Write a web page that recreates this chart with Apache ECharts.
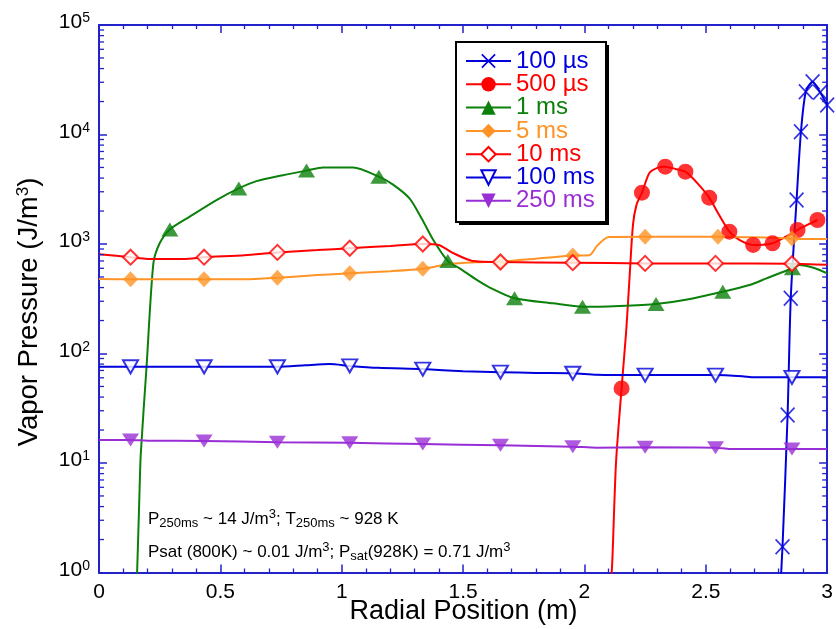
<!DOCTYPE html>
<html><head><meta charset="utf-8">
<script src="https://cdn.jsdelivr.net/npm/echarts@6/dist/echarts.min.js"></script>
<style>html,body{margin:0;padding:0;background:#fff}#c{width:836px;height:629px}</style>
</head><body><div id="c"></div>
<script>
const FONT = "'Liberation Sans', Arial, Helvetica, sans-serif";

// ---------- data ----------
const seriesNames = ['100 µs', '500 µs', '1 ms', '5 ms', '10 ms', '100 ms', '250 ms'];

// 100 µs
const us100Line = [[2.805,0.6],[2.816,1.72],[2.837,27.4],[2.85,319],[2.874,2520],[2.892,10600],[2.912,24600],[2.94,30300],[2.971,24300],[3.0,18600]];
const us100Marks = [[2.816,1.72],[2.837,27.4],[2.85,319],[2.874,2520],[2.892,10600],[2.912,24600],[2.94,30300],[2.971,24300],[3.0,18600]];

// 500 µs
const us500Line = [[2.108,0.7],[2.115,1.3],[2.13,10],[2.153,48],[2.172,160],[2.185,460],[2.2,1500],[2.215,2300],[2.237,2940],[2.267,4420],[2.3,4950],[2.333,5080],[2.375,4850],[2.416,4575],[2.466,3580],[2.514,2650],[2.555,1840],[2.597,1295],[2.638,1090],[2.695,980],[2.735,985],[2.775,1015],[2.83,1167],[2.878,1343],[2.92,1500],[2.96,1657]];
const us500Marks = [[2.153,48],[2.237,2940],[2.333,5080],[2.416,4575],[2.514,2650],[2.597,1295],[2.695,980],[2.775,1015],[2.878,1343],[2.96,1657]];

// 1 ms
const ms1Line = [[0.154,0.7],[0.157,1],[0.166,4.6],[0.172,12],[0.196,76],[0.224,665],[0.25,1015],[0.292,1360],[0.374,1780],[0.484,2520],[0.576,3220],[0.649,3750],[0.758,4250],[0.855,4680],[0.923,5000],[1.047,5000],[1.153,4120],[1.21,3500],[1.28,2600],[1.33,1700],[1.376,1100],[1.437,700],[1.486,600],[1.55,480],[1.61,400],[1.712,319],[1.87,287],[1.992,267],[2.144,272],[2.295,283],[2.418,309],[2.57,367],[2.68,422],[2.75,486],[2.857,600],[2.885,643],[2.95,600],[3.0,540]];
const ms1Marks = [[0.292,1360],[0.576,3220],[0.855,4680],[1.153,4120],[1.437,700],[1.712,319],[1.992,267],[2.295,283],[2.57,367],[2.857,600]];

// 5 ms
const ms5Line = [[0,480],[0.13,476],[0.433,476],[0.6,476],[0.735,492],[0.9,520],[1.033,540],[1.2,565],[1.334,595],[1.45,660],[1.55,680],[1.654,690],[1.8,735],[1.952,785],[2.02,790],[2.05,950],[2.08,1100],[2.1,1160],[2.25,1167],[2.55,1167],[2.7,1150],[2.855,1125],[2.9,1110],[3.0,1110]];
const ms5Marks = [[0.13,476],[0.433,476],[0.735,492],[1.033,540],[1.334,595],[1.654,690],[1.952,785],[2.25,1167],[2.55,1167],[2.855,1125]];

// 10 ms
const ms10Line = [[0,806],[0.13,758],[0.2,730],[0.35,730],[0.433,758],[0.6,790],[0.735,838],[0.9,880],[1.033,915],[1.2,960],[1.334,1000],[1.4,980],[1.457,830],[1.54,700],[1.654,685],[1.952,675],[2.25,665],[2.54,665],[2.855,660],[3.0,645]];
const ms10Marks = [[0.13,758],[0.433,758],[0.735,838],[1.033,915],[1.334,1000],[1.654,685],[1.952,675],[2.25,665],[2.54,665],[2.855,660]];

// 100 ms
const ms100Line = [[0,75.6],[0.13,75.6],[0.433,75.6],[0.735,75.6],[0.85,78],[0.95,80],[1.033,77],[1.15,74],[1.334,72],[1.5,69],[1.654,67.5],[1.8,66.5],[1.952,66],[2.05,64],[2.25,63.5],[2.54,63.5],[2.65,62],[2.7,60.6],[2.855,60.6],[3.0,60.6]];
const ms100Marks = [[0.13,75.6],[0.433,75.6],[0.735,75.6],[1.033,77],[1.334,72],[1.654,67.5],[1.952,66],[2.25,63.5],[2.54,63.5],[2.855,60.6]];

// 250 ms
const ms250Line = [[0,16.2],[0.13,16.2],[0.2,16.0],[0.433,15.9],[0.735,15.5],[1.033,15.3],[1.334,14.9],[1.654,14.5],[1.952,14.1],[2.05,13.8],[2.25,13.9],[2.54,13.8],[2.6,13.4],[2.855,13.4],[3.0,13.4]];
const ms250Marks = [[0.13,16.2],[0.433,15.9],[0.735,15.5],[1.033,15.3],[1.334,14.9],[1.654,14.5],[1.952,14.1],[2.25,13.9],[2.54,13.8],[2.855,13.4]];

// axis ticks
const xTickValues = [0, 0.5, 1, 1.5, 2, 2.5, 3];
const yDecades = [0, 1, 2, 3, 4, 5];
const yMinorMultipliers = [2, 3, 4, 5, 6, 7, 8, 9];

// ---------- styling ----------
const AXIS = '#2222cc';
const BLUE = '#0000dd', RED = '#ff0000', GREEN = '#0b800b', ORANGE = '#ff9326', PURPLE = '#9a2ed6';
const CROSS = 'path://M0,0.8L0.8,0L10,9.2L9.2,10Z M9.2,0L10,0.8L0.8,10L0,9.2Z';

const defs = [
  {name: seriesNames[0], line: us100Line, marks: us100Marks, color: BLUE, symbol: CROSS, rotate: 0, size: [15, 16]},
  {name: seriesNames[1], line: us500Line, marks: us500Marks, color: RED, symbol: 'circle', rotate: 0, size: 16},
  {name: seriesNames[2], line: ms1Line, marks: ms1Marks, color: GREEN, symbol: 'triangle', rotate: 0, size: [17, 14]},
  {name: seriesNames[3], line: ms5Line, marks: ms5Marks, color: ORANGE, symbol: 'diamond', rotate: 0, size: [15, 16]},
  {name: seriesNames[4], line: ms10Line, marks: ms10Marks, color: RED, symbol: 'emptyDiamond', rotate: 0, size: 15},
  {name: seriesNames[5], line: ms100Line, marks: ms100Marks, color: BLUE, symbol: 'emptyTriangle', rotate: 180, size: [15, 13]},
  {name: seriesNames[6], line: ms250Line, marks: ms250Marks, color: PURPLE, symbol: 'triangle', rotate: 180, size: [17, 13]}
];

const minorVals = [];
for (let k = 0; k < yDecades.length - 1; k++) {
  for (const m of yMinorMultipliers) minorVals.push([0, m * Math.pow(10, yDecades[k])]);
}

const series = [];
defs.forEach((d) => {
  series.push({
    name: d.name, type: 'line', data: d.line, smooth: 0.25,
    showSymbol: false, symbol: d.symbol, symbolRotate: d.rotate, symbolSize: d.size,
    lineStyle: {color: d.color, width: 2}, itemStyle: {color: d.color},
    silent: true, z: 2, clip: true
  });
});
const markOrder = [1, 2, 3, 4, 5, 6, 0];
markOrder.forEach((i, k) => {
  const d = defs[i];
  const empty = d.symbol.indexOf('empty') === 0;
  series.push({
    name: '_m' + i, type: 'scatter', data: d.marks,
    symbol: d.symbol, symbolRotate: d.rotate, symbolSize: d.size,
    itemStyle: empty ? {color: d.color, borderColor: d.color, borderWidth: 1.6} : {color: d.color},
    silent: true, z: 3 + k * 0.1, clip: false
  });
});
series.push({
  type: 'custom', silent: true, z: 5, data: minorVals,
  renderItem: function (params, api) {
    const v = api.value(1);
    const a = api.coord([0, v]);
    const b = api.coord([3, v]);
    const st = {stroke: AXIS, lineWidth: 1.3};
    return {type: 'group', children: [
      {type: 'line', shape: {x1: a[0], y1: a[1], x2: a[0] + 5, y2: a[1]}, style: st},
      {type: 'line', shape: {x1: b[0], y1: b[1], x2: b[0] - 5, y2: b[1]}, style: st}
    ]};
  }
});

const axisLineStyle = {color: AXIS, width: 2};
const xAxisCommon = {
  type: 'value', min: 0, max: 3, interval: 0.5,
  axisLine: {show: true, onZero: false, lineStyle: axisLineStyle},
  axisTick: {show: true, inside: true, length: 8, lineStyle: {color: AXIS, width: 1.5}},
  minorTick: {show: true, splitNumber: 5, length: 4, lineStyle: {color: AXIS, width: 1.3}},
  splitLine: {show: false}, minorSplitLine: {show: false}
};
const yAxisCommon = {
  type: 'log', logBase: 10, min: 1, max: 100000,
  axisLine: {show: true, onZero: false, lineStyle: axisLineStyle},
  axisTick: {show: true, inside: true, length: 8, lineStyle: {color: AXIS, width: 1.5}},
  splitLine: {show: false}
};

const LEG = {x: 456, y: 42, w: 150, h: 180};

const option = {
  animation: false,
  backgroundColor: '#fff',
  grid: {left: 99, right: 8, top: 25, bottom: 56.5, containLabel: false},
  xAxis: [
    Object.assign({}, xAxisCommon, {
      position: 'bottom',
      axisLabel: {show: true, margin: 9, color: '#000', fontSize: 21, fontFamily: FONT,
        formatter: (v) => (xTickValues.indexOf(v) >= 0 ? String(v) : '')}
    }),
    Object.assign({}, xAxisCommon, {position: 'top', axisLabel: {show: false}})
  ],
  yAxis: [
    Object.assign({}, yAxisCommon, {
      position: 'left',
      axisLabel: {
        show: true, margin: 9, color: '#000', fontFamily: FONT, padding: [0, 0, 5, 0],
        formatter: function (v) {
          const e = Math.round(Math.log10(v));
          return yDecades.indexOf(e) >= 0 ? '{b|10}{s|' + e + '}' : '';
        },
        rich: {
          b: {fontSize: 21, lineHeight: 22, fontFamily: FONT, color: '#000'},
          s: {fontSize: 14, lineHeight: 12, verticalAlign: 'top', fontFamily: FONT, color: '#000'}
        }
      }
    }),
    Object.assign({}, yAxisCommon, {position: 'right', axisLabel: {show: false}})
  ],
  legend: {
    orient: 'vertical', left: LEG.x, top: LEG.y, z: 30,
    itemWidth: 45, itemHeight: 18, itemGap: -0.7,
    padding: [7, 8, 7, 9],
    backgroundColor: 'transparent', borderWidth: 0,
    textStyle: {fontSize: 24, fontFamily: FONT, lineHeight: 22},
    selectedMode: false,
    data: defs.map((d) => ({name: d.name, textStyle: {color: d.color}}))
  },
  graphic: [
    {type: 'rect', z: 20, silent: true, shape: {x: LEG.x + 3, y: LEG.y + 3, width: LEG.w, height: LEG.h}, style: {fill: '#000'}},
    {type: 'rect', z: 21, silent: true, shape: {x: LEG.x, y: LEG.y, width: LEG.w, height: LEG.h}, style: {fill: '#fff', stroke: '#000', lineWidth: 2}},
    {type: 'text', x: 463.5, y: 612, silent: true,
      style: {text: 'Radial Position (m)', fontSize: 27, fontFamily: FONT, fill: '#000', align: 'center', verticalAlign: 'middle'}},
    {type: 'text', x: 29, y: 312, rotation: Math.PI / 2, silent: true,
      style: {text: '{a|Vapor Pressure (J/m}{s|3}{a|)}', align: 'center', verticalAlign: 'middle',
        rich: {
          a: {fontSize: 27.5, lineHeight: 28, fontFamily: FONT, fill: '#000'},
          s: {fontSize: 17, lineHeight: 13, verticalAlign: 'top', fontFamily: FONT, fill: '#000'}
        }}},
    {type: 'text', x: 148, y: 519, silent: true,
      style: {text: '{t|P}{sub|250ms}{t| ~ 14 J/m}{sup|3}{t|; T}{sub|250ms}{t| ~ 928 K}', verticalAlign: 'middle',
        rich: {
          t: {fontSize: 17, lineHeight: 22, fontFamily: FONT, fill: '#000'},
          sub: {fontSize: 13, lineHeight: 6, verticalAlign: 'bottom', fontFamily: FONT, fill: '#000'},
          sup: {fontSize: 13, lineHeight: 4, verticalAlign: 'top', fontFamily: FONT, fill: '#000'}
        }}},
    {type: 'text', x: 148, y: 552, silent: true,
      style: {text: '{t|Psat (800K) ~ 0.01 J/m}{sup|3}{t|; P}{sub|sat}{t|(928K) = 0.71 J/m}{sup|3}', verticalAlign: 'middle',
        rich: {
          t: {fontSize: 17, lineHeight: 22, fontFamily: FONT, fill: '#000'},
          sub: {fontSize: 13, lineHeight: 6, verticalAlign: 'bottom', fontFamily: FONT, fill: '#000'},
          sup: {fontSize: 13, lineHeight: 4, verticalAlign: 'top', fontFamily: FONT, fill: '#000'}
        }}}
  ],
  series: series
};

const chart = echarts.init(document.getElementById('c'), null, {renderer: 'canvas'});
chart.setOption(option);
</script>
</body></html>
